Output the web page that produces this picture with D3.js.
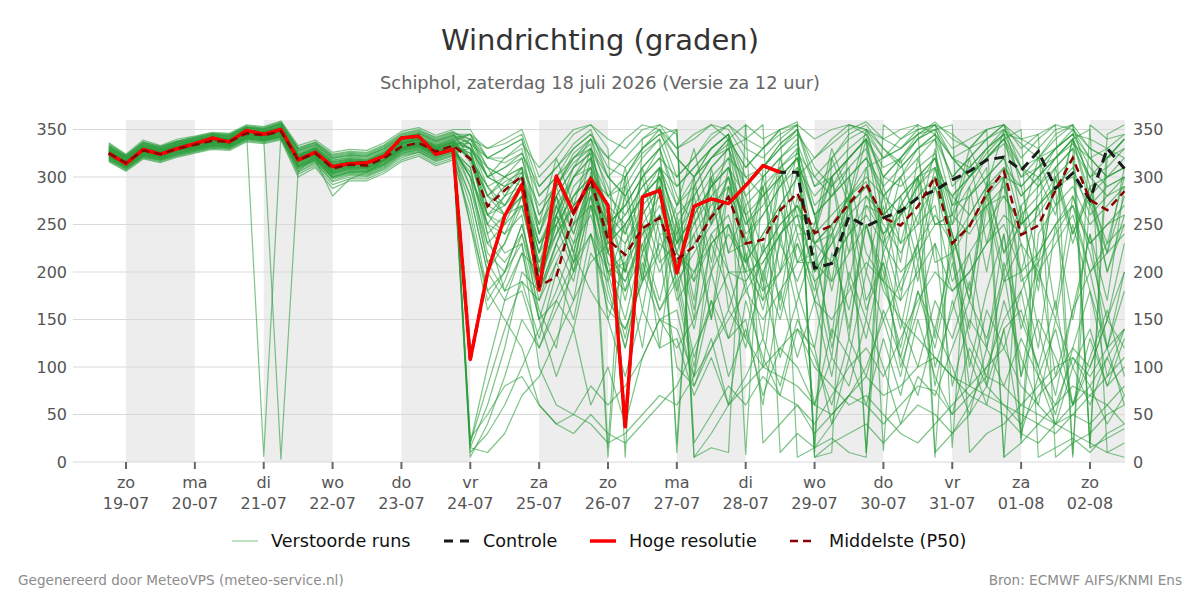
<!DOCTYPE html>
<html><head><meta charset="utf-8">
<script src="https://cdn.jsdelivr.net/npm/d3@7"></script>
<style>
html,body{margin:0;padding:0;background:#fff;}
svg{display:block;font-family:"DejaVu Sans",sans-serif;}
</style></head>
<body><svg id="c" width="1200" height="600"></svg>
<script>
// ---- data ----
const startHour = -6, stepHours = 6;            // hours relative to 19-07 00:00
const dayLabels = ["zo","ma","di","wo","do","vr","za","zo","ma","di","wo","do","vr","za","zo"];
const dateLabels = ["19-07","20-07","21-07","22-07","23-07","24-07","25-07","26-07","27-07","28-07","29-07","30-07","31-07","01-08","02-08"];
const yTicks = [0,50,100,150,200,250,300,350];

const hres = [325,314,329,324,330,335,341,337,349,345,350,318,326,311,314,315,322,341,343,324,329,108,199,259,292,181,301,262,298,270,37,279,286,199,269,277,272,291,312,305];
const control = [325,314,329,324,330,335,341,337,349,345,350,318,326,311,314,315,322,341,343,324,329,108,199,259,292,181,301,262,298,270,37,279,286,199,269,277,272,291,312,305,305,204,209,258,248,257,264,278,286,297,306,318,321,307,327,288,304,276,330,309];
const p50 = [325,315,328,324,330,334,338,337,346,344,348,318,325,309,313,312,320,332,336,327,333,319,269,286,301,185,195,263,297,234,218,246,257,213,227,258,279,230,234,265,283,241,249,272,293,257,249,269,300,230,248,283,306,239,249,286,320,276,265,285];

const m01 = [327,317,331,326,333,336,341,339,349,347,352,321,328,311,316,314,323,335,339,330,336, 320,280,295,305,200,290,240,300,240,310,220,300,220,280,200,290,235,170,270,210,250,300,190,280,260,320,230,310,240,180,295,220,250,320,270,340,280,230,300];
const m02 = [322,312,326,321,328,331,335,334,343,341,345,314,321,304,309,308,316,329,333,323,330, 15,60,120,200,180,230,280,310,210,190,240,260,200,230,260,300,210,180,200,250,230,240,280,310,320,340,355,10,30,50,80,60,40,70,90,120,100,150,200];
const m03 = [330,320,333,329,335,339,343,342,351,349,355,325,331,318,320,319,327,339,343,335,341, 345,330,340,350,300,320,345,355,330,5,340,350,320,300,330,345,290,310,335,350,300,320,345,355,330,315,340,350,320,330,350,355,340,345,355,350,330,320,340];
const m04 = [320,310,323,319,325,329,333,332,341,339,343,310,318,300,305,304,312,325,329,320,326, 330,260,240,280,190,250,300,320,280,260,290,310,270,300,320,340,355,20,40,60,30,50,70,60,40,60,80,75,50,70,90,80,60,80,100,110,90,120,140];
const m05 = [326,314,329,325,331,335,337,338,345,343,349,316,324,306,311,310,318,330,337,325,332, 300,220,200,250,170,230,190,280,150,210,120,240,180,90,240,200,130,230,170,280,190,110,250,160,210,140,230,100,160,220,120,240,90,200,150,250,180,120,200];
const m06 = [324,316,327,323,329,333,339,336,347,345,347,319,326,310,314,313,321,333,335,328,334, 250,180,150,120,60,40,30,50,30,20,40,60,80,120,160,200,190,220,250,270,240,260,280,300,280,300,320,340,300,320,340,355,330,345,5,20,30,50,60];
const m07 = [333,321,335,330,336,340,344,343,352,350,357,328,334,320,323,322,330,342,346,338,344, 335,300,310,320,260,290,320,330,300,280,310,330,280,250,290,310,240,260,290,320,210,240,280,10,230,260,290,320,250,280,310,5,270,290,320,340,300,310,330];
const m08 = [318,308,321,317,323,327,331,330,339,337,341,305,314,295,300,300,308,320,326,316,322, 10,30,60,100,140,180,230,260,200,210,240,270,220,190,230,250,200,210,240,260,170,150,180,210,190,170,200,230,180,200,230,250,200,220,250,280,230,250,260];
const m09 = [329,319,332,328,334,338,342,341,350,348,353,323,329,315,318,317,325,337,341,332,338, 320,290,270,300,230,260,300,320,250,270,300,330,350,20,50,80,60,90,70,60,40,70,100,120,90,130,170,200,180,200,230,260,240,260,290,310,260,280,300];
const m10 = [321,311,324,320,326,330,334,333,342,340,344,312,320,302,307,306,314,327,331,322,328, 280,200,230,280,190,240,290,310,220,200,250,280,210,250,280,300,250,280,310,330,270,290,320,340,300,320,345,358,340,330,350,5,20,40,30,50,40,60,80];
const m11 = [325,315,328,324,330,334,338,337,346,344,348,318,325,309,313,312,320,332,336,327,333, 340,310,300,290,220,250,280,300,5,230,270,290,230,260,290,310,280,300,320,335,290,310,330,345,300,290,310,325,260,290,320,340,300,310,330,345,320,300,310];
const m12 = [331,320,334,329,335,339,343,342,348,6,345,326,332,317,321,320,328,340,344,336,342, 330,240,180,220,150,210,170,270,180,120,200,150,140,90,170,130,190,100,240,160,60,140,110,200,150,90,180,120,210,130,90,170,110,60,150,100,140,80,130];
const m13 = [323,313,326,322,328,332,336,335,344,340,3,306,322,305,310,309,317,330,334,324,331, 300,250,280,310,200,260,310,340,320,340,355,350,330,345,355,340,310,330,350,358,5,20,30,40,20,40,60,50,30,60,100,150,180,220,250,270,230,250,270];
const m14 = [328,316,330,327,332,337,340,340,348,345,351,322,330,313,317,315,324,336,340,331,337, 345,320,330,340,280,300,330,345,310,300,325,340,290,310,330,345,300,280,300,320,260,280,300,320,280,260,290,310,230,260,290,300,20,240,270,290,250,270,290];
const m15 = [319,309,322,318,324,328,332,331,340,338,342,308,316,298,303,302,310,323,327,318,324, 250,160,190,240,180,230,270,290,200,180,220,260,190,220,250,280,230,200,240,270,200,230,270,290,250,220,260,290,220,250,280,310,280,300,320,340,350,10,20];
const m16 = [326,317,329,325,331,335,339,338,347,345,350,320,327,311,315,314,322,334,338,329,335, 330,300,290,300,250,280,310,325,230,250,280,300,240,270,300,320,210,240,270,300,230,250,280,295,240,270,300,5,280,300,325,345,310,320,340,355,290,300,320];
const m17 = [322,313,325,322,327,331,336,334,344,342,346,315,322,305,309,309,317,329,333,324,330, 5,40,90,150,120,160,200,240,170,140,190,220,100,80,120,160,130,100,90,80,60,50,70,90,70,80,100,110,90,80,70,60,50,40,60,80,70,90,110];
const m18 = [332,322,336,331,337,341,345,344,353,351,356,330,336,322,325,324,332,344,348,340,346, 320,270,260,290,210,260,300,330,260,240,280,310,250,280,310,330,340,355,10,30,15,40,70,100,150,190,230,260,230,250,270,280,250,270,290,300,270,290,300];
const m19 = [317,307,320,316,322,326,330,329,338,336,340,303,312,292,298,298,306,318,324,314,320, 340,320,320,330,240,300,250,320,220,280,190,290,200,260,150,290,260,180,300,210,220,130,280,170,210,100,160,230,80,150,120,190,230,140,70,160,240,120,60];
const m20 = [327,316,330,325,332,335,340,338,348,346,351,321,328,312,316,315,323,335,339,330,336, 290,230,250,290,180,220,250,270,200,220,260,290,230,260,290,320,300,310,330,345,320,335,350,358,340,350,355,345,320,300,320,340,350,5,15,25,10,30,40];
const m21 = [324,314,327,323,329,333,337,336,345,343,347,317,324,308,312,311,319,331,335,326,332, 20,80,140,190,170,210,250,280,220,190,230,260,170,200,240,260,200,170,200,230,190,210,240,260,230,200,220,250,260,240,270,290,230,200,230,260,200,230,250];
const m22 = [335,323,337,332,338,342,346,345,354,352,358,331,337,324,327,326,334,346,350,342,348, 335,280,300,320,240,290,325,340,280,290,320,340,10,290,320,335,230,260,290,310,280,300,320,340,12,270,300,320,270,300,330,345,260,280,310,330,20,320,340];
const m23 = [320,311,323,319,325,329,333,332,341,339,343,311,319,300,305,305,313,325,329,320,326, 310,230,210,240,160,120,220,180,150,90,160,120,130,70,110,60,90,130,80,150,110,60,130,90,160,110,70,140,100,50,120,80,130,90,40,100,60,110,70];
const m24 = [329,318,332,327,334,337,342,340,350,348,354,324,330,316,319,318,326,338,342,334,340, 330,300,320,335,310,330,350,355,340,330,350,355,345,5,15,10,355,340,350,5,15,25,10,5,355,340,350,355,345,330,340,350,335,320,330,345,340,330,320];
const m25 = [323,314,326,322,328,332,336,335,344,342,346,316,323,307,311,310,318,330,334,325,331, 300,260,270,300,200,270,230,300,240,170,250,200,240,150,300,220,270,190,110,170,230,120,200,150,270,180,230,130,230,100,180,240,140,210,90,160,200,120,180];
const m26 = [326,315,328,324,330,334,338,337,346,344,348,310,318,280,298,305,318,330,336,327,333, 325,250,220,230,100,60,50,40,20,30,50,70,60,90,120,150,180,210,240,260,200,230,260,280,240,260,280,300,280,260,290,310,290,310,330,350,320,300,310];
const m27 = [330,319,333,328,335,338,342,341,350,347,353,323,330,315,318,317,325,337,341,333,339, 345,310,280,290,230,270,300,310,270,250,280,300,20,300,320,330,270,290,310,325,300,280,300,320,290,310,330,340,270,280,300,320,250,270,290,8,280,300,310];
const m28 = [318,309,321,318,323,327,331,330,340,338,342,306,315,296,302,301,309,322,326,317,323, 280,200,170,180,120,170,140,220,190,120,210,160,200,110,170,90,140,70,120,100,60,110,80,150,100,40,90,70,120,170,130,200,90,150,110,60,130,80,100];
const m29 = [334,323,337,332,338,342,346,345,353,351,357,330,336,323,326,325,333,345,349,341,347, 340,330,335,345,290,310,335,350,300,280,310,330,270,290,320,340,310,330,350,355,340,350,355,345,320,330,345,350,355,10,30,40,60,50,40,30,20,10,5];
const m30 = [321,312,324,320,326,330,334,333,342,340,344,313,321,303,308,307,315,328,332,323,329, 310,240,260,280,220,280,200,305,190,250,160,260,210,140,230,180,120,200,150,230,170,90,190,130,220,150,100,170,130,190,80,210,150,100,170,60,110,160,90];
const m31 = [325,316,329,323,331,333,339,336,347,343,349,317,326,308,314,311,321,331,337,326,334, 15,10,30,70,90,130,170,210,230,250,280,300,260,280,310,330,290,310,330,350,290,300,320,340,260,280,300,320,230,250,280,300,190,210,240,270,200,220,240];
const m32 = [327,315,330,326,331,336,339,339,347,346,350,320,326,311,314,314,321,334,337,329,334, 320,290,300,310,190,280,220,300,220,300,190,310,250,160,280,200,200,290,160,240,180,250,130,270,240,170,300,210,220,140,270,190,200,120,250,150,240,170,290];
const m33 = [331,321,334,330,336,340,344,343,352,349,355,327,333,319,322,321,329,341,345,337,343, 335,290,260,270,210,240,270,290,250,270,300,320,300,320,340,355,330,320,340,355,18,320,340,350,320,330,350,355,290,310,330,350,320,340,355,5,355,340,345];
const m34 = [320,310,323,320,325,329,333,332,341,339,343,311,318,301,306,305,313,326,330,321,327, 305,250,240,260,150,90,140,60,100,40,110,150,160,80,130,60,170,110,70,140,120,40,110,60,130,70,150,90,50,120,80,140,30,90,60,110,80,40,70];
const m35 = [328,317,331,327,333,337,341,340,349,347,352,322,329,314,317,316,324,336,340,332,338, 330,310,300,310,270,290,315,330,250,270,300,320,230,260,290,310,250,270,300,320,260,280,310,10,300,320,340,355,330,340,350,355,310,300,320,340,300,280,290];
const m36 = [316,306,319,315,321,325,329,328,337,335,339,300,310,288,296,296,304,316,322,312,318, 260,170,200,250,180,260,210,280,210,150,230,170,250,190,300,160,220,130,270,180,120,220,160,250,200,110,180,140,220,80,160,120,180,90,140,60,100,150,120];
const m37 = [332,321,335,330,337,340,344,343,352,350,355,328,334,320,323,322,330,342,346,338,344, 340,300,290,300,240,280,310,325,15,300,330,345,320,300,330,345,8,310,335,350,310,290,310,330,280,300,330,345,300,320,340,355,290,310,320,335,320,330,345];
const m38 = [322,312,325,321,327,331,335,334,343,341,345,313,320,303,308,307,315,328,332,323,329, 290,210,230,270,190,270,220,290,230,290,200,310,180,240,150,250,210,300,230,330,260,190,300,220,190,280,210,300,240,170,290,220,270,180,310,240,290,200,260];
const m39 = [329,319,331,328,333,337,341,340,349,346,352,322,328,313,317,316,324,336,340,331,337, 320,280,260,280,230,250,280,300,280,300,330,345,350,5,30,60,80,100,120,140,100,80,60,70,50,30,20,40,60,80,100,120,80,60,40,50,70,60,40];
const m40 = [336,324,339,333,340,343,347,346,355,353,359,333,339,326,329,328,336,348,352,344,350, 350,320,330,340,260,290,320,340,300,320,340,355,330,340,355,350,320,300,320,340,10,300,320,340,310,320,340,350,15,280,300,320,280,300,330,345,310,290,300];
const m41 = [319,310,322,318,324,328,332,331,340,338,342,309,317,299,304,303,311,324,328,319,325, 270,180,200,230,150,170,210,240,160,140,190,230,210,240,270,290,190,220,250,270,230,250,270,290,260,280,300,310,280,300,320,335,300,320,345,355,15,25,35];
const m42 = [327,317,329,326,331,335,340,338,348,345,350,320,327,312,316,315,323,335,339,330,336, 330,270,290,310,180,260,210,290,270,200,310,240,240,300,210,310,260,190,310,240,240,320,270,340,230,300,250,330,220,290,200,300,200,270,160,280,220,150,230];
const m43 = [324,313,327,322,329,332,337,335,345,342,347,316,323,306,311,310,318,331,334,325,332, 25,50,80,90,60,40,50,80,60,80,110,150,120,150,200,240,210,240,270,300,320,340,355,350,330,310,330,345,320,300,320,340,310,290,310,330,300,320,340];
const m44 = [330,320,333,329,334,339,342,342,350,348,353,324,331,316,319,318,326,338,342,333,340, 315,260,280,305,250,320,270,330,290,240,300,220,270,330,250,340,280,220,320,260,250,330,280,350,290,230,300,250,260,330,290,350,25,300,260,340,270,220,310];
const m45 = [321,311,324,320,326,330,334,333,342,340,344,312,320,300,306,306,314,327,331,322,328, 300,210,180,190,130,200,150,240,200,130,220,160,190,100,200,130,150,60,180,110,170,240,140,250,190,120,210,80,170,110,60,140,160,100,50,120,180,90,140];
const m46 = [333,322,336,331,337,341,345,344,352,350,356,329,335,321,324,323,331,343,347,339,345, 345,300,310,325,290,310,330,345,320,310,330,350,300,320,345,355,340,330,345,355,5,10,355,350,340,330,345,355,320,310,330,345,340,330,350,355,330,320,330];
const m47 = [325,314,328,323,330,333,338,336,346,343,348,317,324,307,312,311,319,331,335,326,333, 320,260,250,270,190,250,200,270,240,180,250,120,260,170,310,220,230,290,200,310,260,180,270,200,280,210,320,250,250,320,230,300,290,210,300,240,280,200,250];
const m48 = [328,318,331,327,332,336,340,340,347,346,350,321,327,312,316,315,323,335,339,330,336, 335,320,315,325,280,300,320,335,240,260,290,310,290,310,330,345,260,280,300,320,230,210,240,270,260,230,250,270,190,220,250,280,250,270,300,320,15,345,355];
const m49 = [323,313,326,321,328,331,336,334,344,341,346,315,322,304,310,309,317,329,333,324,331, 20,100,170,220,200,240,270,290,250,230,260,290,220,200,230,250,180,150,180,210,210,190,220,250,180,150,130,110,90,70,60,50,30,20,40,60,80,110,140];
const m50 = [326,316,329,325,331,335,339,338,347,345,349,319,326,310,314,313,321,333,337,328,334, 325,280,270,290,220,280,240,300,260,200,270,210,230,290,250,300,220,160,230,190,240,300,220,310,220,270,190,290,240,170,280,200,260,190,300,230,290,220,280];

const members = [m01,m02,m03,m04,m05,m06,m07,m08,m09,m10,m11,m12,m13,m14,m15,m16,m17,m18,m19,m20,
  m21,m22,m23,m24,m25,m26,m27,m28,m29,m30,m31,m32,m33,m34,m35,m36,m37,m38,m39,m40,
  m41,m42,m43,m44,m45,m46,m47,m48,m49,m50];

// ---- drawing ----
const svg = d3.select("#c");
const plotL = 73, plotR = 1125, plotT = 120, plotB = 462;
const x = d3.scaleLinear().domain([-6, 348]).range([108.8, 1124.4]);
const y = d3.scaleLinear().domain([0, 360]).range([plotB, plotT]);
const tOf = i => startHour + i * stepHours;

// day shading (alternate days starting 19-07)
const bandDays = d3.range(0, 15, 2);
svg.append("g").selectAll("rect").data(bandDays).join("rect")
  .attr("x", d => x(d * 24))
  .attr("width", d => Math.min(x((d + 1) * 24), plotR) - x(d * 24))
  .attr("y", plotT).attr("height", plotB - plotT)
  .attr("fill", "#ededed");

// grid
svg.append("g").selectAll("line").data(yTicks).join("line")
  .attr("x1", plotL).attr("x2", plotR)
  .attr("y1", d => y(d)).attr("y2", d => y(d))
  .attr("stroke", "#d9d9d9").attr("stroke-width", 1);

// axes labels
const yl = svg.append("g").attr("font-size", 16).attr("fill", "#555");
yl.selectAll("text.l").data(yTicks).join("text").attr("class", "l")
  .attr("x", 67).attr("y", d => y(d)).attr("dy", "0.36em")
  .attr("text-anchor", "end").attr("fill", "#555").text(d => d);
yl.selectAll("text.r").data(yTicks).join("text").attr("class", "r")
  .attr("x", 1133).attr("y", d => y(d)).attr("dy", "0.36em")
  .attr("text-anchor", "start").attr("fill", "#555").text(d => d);

const xt = svg.append("g");
xt.selectAll("line").data(dateLabels).join("line")
  .attr("x1", (d, i) => x(i * 24)).attr("x2", (d, i) => x(i * 24))
  .attr("y1", plotB).attr("y2", plotB + 7)
  .attr("stroke", "#666").attr("stroke-width", 2);
xt.selectAll("text.d").data(dayLabels).join("text").attr("class", "d")
  .attr("x", (d, i) => x(i * 24)).attr("y", 488)
  .attr("text-anchor", "middle").attr("font-size", 16).attr("fill", "#555").text(d => d);
xt.selectAll("text.t").data(dateLabels).join("text").attr("class", "t")
  .attr("x", (d, i) => x(i * 24)).attr("y", 509)
  .attr("text-anchor", "middle").attr("font-size", 16).attr("fill", "#555").text(d => d);

// clip
svg.append("clipPath").attr("id", "clip").append("rect")
  .attr("x", plotL).attr("y", plotT - 2).attr("width", plotR - plotL + 1).attr("height", plotB - plotT + 4);

const line = d3.line().x((d, i) => x(tOf(i))).y(d => y(d));
const g = svg.append("g").attr("clip-path", "url(#clip)");

g.selectAll("path.m").data(members).join("path").attr("class", "m")
  .attr("d", line).attr("fill", "none")
  .attr("stroke", "#2a9d3a").attr("stroke-opacity", 0.6).attr("stroke-width", 1.2)
  .attr("stroke-linejoin", "round");

g.append("path").datum(control).attr("d", line).attr("fill", "none")
  .attr("stroke", "#1a1a1a").attr("stroke-width", 3).attr("stroke-dasharray", "10,6");
g.append("path").datum(hres).attr("d", line).attr("fill", "none")
  .attr("stroke", "#ff0000").attr("stroke-width", 3.5).attr("stroke-linejoin", "round");
g.append("path").datum(p50).attr("d", line).attr("fill", "none")
  .attr("stroke", "#8b0000").attr("stroke-width", 2.5).attr("stroke-dasharray", "8,5");

// titles
svg.append("text").attr("x", 600).attr("y", 50).attr("text-anchor", "middle")
  .attr("font-size", 29).attr("fill", "#333").text("Windrichting (graden)");
svg.append("text").attr("x", 600).attr("y", 89).attr("text-anchor", "middle")
  .attr("font-size", 17.8).attr("fill", "#666").text("Schiphol, zaterdag 18 juli 2026 (Versie za 12 uur)");

// legend
const leg = [
  {label: "Verstoorde runs", x: 232, stroke: "#2a9d3a", op: 0.6, w: 1, dash: null},
  {label: "Controle", x: 444, stroke: "#1a1a1a", op: 1, w: 3, dash: "9,7"},
  {label: "Hoge resolutie", x: 590, stroke: "#ff0000", op: 1, w: 3.5, dash: null},
  {label: "Middelste (P50)", x: 790, stroke: "#8b0000", op: 1, w: 2.5, dash: "8,5"}
];
const lg = svg.append("g").selectAll("g").data(leg).join("g");
lg.append("line").attr("x1", d => d.x).attr("x2", d => d.x + 26).attr("y1", 541).attr("y2", 541)
  .attr("stroke", d => d.stroke).attr("stroke-opacity", d => d.op).attr("stroke-width", d => d.w)
  .attr("stroke-dasharray", d => d.dash);
lg.append("text").attr("x", d => d.x + 39).attr("y", 541).attr("dy", "0.36em")
  .attr("font-size", 17.6).attr("fill", "#111").text(d => d.label);

// footer
svg.append("text").attr("x", 18).attr("y", 585).attr("font-size", 13.6).attr("fill", "#8c8c8c")
  .text("Gegenereerd door MeteoVPS (meteo-service.nl)");
svg.append("text").attr("x", 1182).attr("y", 585).attr("text-anchor", "end").attr("font-size", 13.6).attr("fill", "#8c8c8c")
  .text("Bron: ECMWF AIFS/KNMI Ens");
</script></body></html>
